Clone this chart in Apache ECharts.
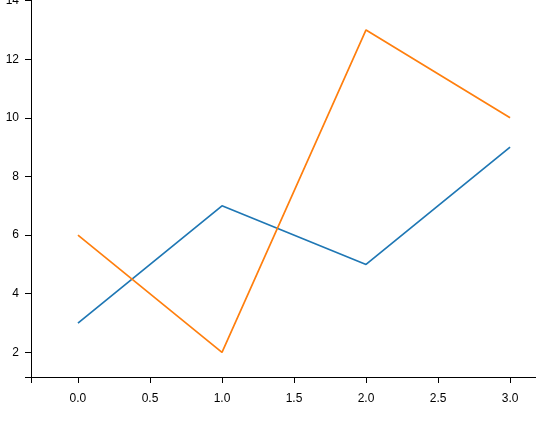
<!DOCTYPE html>
<html><head><meta charset="utf-8">
<script src="https://cdn.jsdelivr.net/npm/echarts@6/dist/echarts.min.js"></script>
<style>html,body{margin:0;padding:0;background:#fff}#c{width:536px;height:427px}</style>
</head><body><div id="c"></div>
<script>
const xValues = [0, 1, 2, 3];
const blueSeries = [3, 7, 5, 9];
const orangeSeries = [6, 2, 13, 10];
const xTicks = [0, 0.5, 1, 1.5, 2, 2.5, 3];
const yTicks = [2, 4, 6, 8, 10, 12, 14];
const xMin = -0.326, xMax = 3.18, yMin = 1.16, yMax = 14.02;

const chart = echarts.init(document.getElementById('c'), null, {renderer: 'canvas'});
const axisCommon = {
  axisLine: {show: true, onZero: false, lineStyle: {color: '#000', width: 1}},
  splitLine: {show: false},
};
chart.setOption({
  animation: false,
  grid: {left: 31, right: 0, top: 0, bottom: 50, containLabel: false, outerBoundsMode: 'none'},
  xAxis: Object.assign({
    type: 'value', min: xMin, max: xMax,
    axisLabel: {customValues: xTicks, formatter: v => v.toFixed(1), color: '#000', fontSize: 12, fontFamily: 'Liberation Sans, Arial', margin: 16},
    axisTick: {show: true, length: 6, customValues: [xMin].concat(xTicks), lineStyle: {color: '#000', width: 1}}
  }, axisCommon),
  yAxis: Object.assign({
    type: 'value', min: yMin, max: yMax,
    axisLabel: {customValues: yTicks, formatter: v => String(v), color: '#000', fontSize: 12, fontFamily: 'Liberation Sans, Arial', margin: 12},
    axisTick: {show: true, length: 6, customValues: [yMin].concat(yTicks), lineStyle: {color: '#000', width: 1}}
  }, axisCommon),
  series: [
    {type: 'line', data: xValues.map((x, i) => [x, blueSeries[i]]), showSymbol: false, lineStyle: {color: '#1f77b4', width: 1.7}, itemStyle: {color: '#1f77b4'}},
    {type: 'line', data: xValues.map((x, i) => [x, orangeSeries[i]]), showSymbol: false, lineStyle: {color: '#ff7f0e', width: 1.7}, itemStyle: {color: '#ff7f0e'}}
  ]
});
</script></body></html>
